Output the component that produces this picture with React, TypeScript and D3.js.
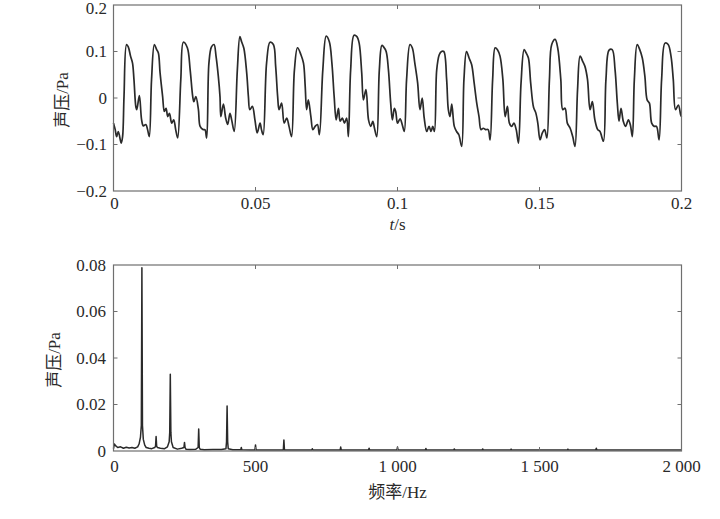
import React from "react";
import * as d3 from "d3";

// time waveform: [t (ms), sound pressure (Pa)]
const waveT: number[] = [0,0.6,1.1,1.7,2.7,3.2,3.7,4.6,5.2,6.0,6.7,7.2,7.9,8.2,9.1,9.9,10.5,11.4,12.0,12.6,13.4,14.4,15.2,15.8,16.4,17.3,17.9,18.5,19.1,19.7,20.5,21.2,21.9,22.6,23.7,24.6,26.0,27.0,27.9,28.3,29.0,29.9,30.5,31.6,32.2,32.8,33.6,34.5,35.4,36.1,36.9,37.5,37.8,38.7,39.5,40.2,41.0,41.6,42.5,43.6,44.5,45.1,45.9,46.9,47.5,48.0,48.9,49.8,50.6,51.6,52.1,52.7,53.9,55.1,56.3,57.1,57.8,58.3,59.2,60.1,61.0,61.8,62.7,63.7,64.8,66.0,66.9,67.5,68.0,68.6,69.5,70.2,71.0,71.8,72.5,73.7,74.9,76.0,76.9,77.7,78.4,79.2,79.8,80.6,81.3,82.1,82.7,83.5,84.7,85.7,86.5,87.4,88.0,88.9,89.8,90.6,91.3,91.9,92.7,93.6,94.5,95.1,96.0,96.8,97.6,98.2,98.9,99.4,100.0,100.9,101.7,102.4,103.2,104.4,105.2,106.1,107.1,107.9,108.7,109.4,110.3,111.1,111.8,112.4,113.0,113.8,114.7,115.5,116.3,117.3,117.9,118.5,119.1,120.0,120.8,121.6,122.6,123.4,124.3,125.2,126.1,127.0,127.9,128.7,129.4,130.2,131.0,131.9,132.6,133.5,134.4,135.2,136.1,137.1,137.9,138.7,139.4,140.2,141.0,141.8,142.6,143.5,144.6,145.3,146.1,146.9,147.9,148.7,149.4,150.2,151.0,151.8,152.6,153.5,154.3,155.5,156.4,157.5,158.2,159.0,159.8,160.8,161.7,162.5,163.4,164.3,165.2,166.0,166.9,167.8,168.6,169.5,170.5,171.3,172.5,173.4,174.5,175.6,176.6,177.4,178.0,178.7,179.5,180.3,181.3,182.0,182.7,183.4,184.4,185.3,186.2,187.1,187.9,188.7,189.5,190.4,191.2,192.1,193.0,194.2,195.3,196.3,197.1,197.9,198.9,199.7,200];
const waveP: number[] = [-0.054,-0.068,-0.083,-0.072,-0.097,-0.083,0.003,0.115,0.11,0.09,0.075,0.04,-0.02,-0.025,0.005,-0.047,-0.06,-0.057,-0.068,-0.083,0.04,0.115,0.104,0.097,0.054,0.003,-0.029,-0.022,-0.04,-0.033,-0.054,-0.047,-0.068,-0.086,0.04,0.12,0.108,0.06,0.003,-0.008,0.003,-0.025,-0.061,-0.068,-0.068,-0.086,0.075,0.11,0.115,0.09,0.047,0.003,-0.04,-0.013,-0.043,-0.057,-0.033,-0.047,-0.072,0.06,0.132,0.121,0.107,0.054,0.003,-0.025,-0.018,-0.047,-0.075,-0.054,-0.068,-0.079,0.075,0.12,0.115,0.068,0.003,-0.025,-0.011,-0.054,-0.043,-0.061,-0.083,0.06,0.108,0.093,0.075,0.025,-0.025,-0.004,-0.04,-0.068,-0.061,-0.057,-0.079,0.06,0.133,0.121,0.075,0.003,-0.047,-0.022,-0.05,-0.043,-0.054,-0.043,-0.083,0.06,0.135,0.132,0.118,0.054,-0.004,0.018,-0.047,-0.061,-0.05,-0.065,-0.083,0.06,0.113,0.11,0.1,0.061,-0.011,-0.047,-0.022,-0.03,-0.054,-0.045,-0.058,-0.072,0.04,0.115,0.108,0.075,0.032,-0.025,0.0,-0.043,-0.072,-0.061,-0.072,-0.061,-0.072,0.06,0.093,0.1,0.1,0.04,-0.025,-0.04,-0.013,-0.061,-0.072,-0.079,-0.104,0.04,0.1,0.086,0.072,0.032,-0.011,-0.04,-0.068,-0.065,-0.068,-0.068,-0.09,0.04,0.108,0.104,0.09,0.04,-0.04,-0.018,-0.054,-0.061,-0.054,-0.068,-0.097,0.032,0.104,0.097,0.086,0.032,-0.02,-0.032,-0.054,-0.09,-0.075,-0.068,-0.086,0.04,0.115,0.126,0.108,0.04,-0.025,-0.022,-0.054,-0.065,-0.083,-0.104,0.018,0.09,0.079,0.068,0.04,-0.025,-0.008,-0.047,-0.068,-0.072,-0.093,0.04,0.103,0.104,0.061,-0.011,-0.05,-0.022,-0.05,-0.061,-0.047,-0.058,-0.083,0.04,0.115,0.104,0.086,0.047,-0.004,-0.011,-0.054,-0.061,-0.061,-0.09,0.04,0.118,0.115,0.09,0.04,-0.025,-0.015,-0.036,-0.04];

// spectrum: [frequency (Hz), amplitude (Pa)]
const specF: number[] = [0,3,8,15,25,35,45,55,65,75,85,90,95,98,100,102,105,110,115,125,135,145,148,150,152,155,165,180,190,196,198,200,202,204,210,225,240,248,250,252,255,270,290,298,300,302,305,320,350,380,396,398,400,402,404,420,448,450,452,480,498,500,502,550,598,600,602,650,698,700,702,750,798,800,802,850,898,900,902,950,998,1000,1002,1098,1100,1102,1198,1200,1202,1298,1300,1302,1398,1400,1402,1598,1600,1602,1698,1700,1702,1800,1900,2000];
const specA: number[] = [0.001,0.003,0.0022,0.0015,0.0018,0.0012,0.0016,0.0013,0.0015,0.0012,0.0018,0.003,0.006,0.011,0.0788,0.011,0.005,0.0025,0.0015,0.0012,0.001,0.0015,0.002,0.0062,0.002,0.0015,0.0012,0.001,0.0018,0.004,0.008,0.033,0.008,0.004,0.0015,0.0008,0.0012,0.0015,0.0037,0.0015,0.0008,0.0006,0.0008,0.0015,0.0095,0.0015,0.0008,0.0005,0.0006,0.0006,0.001,0.004,0.0194,0.004,0.001,0.0005,0.0005,0.0015,0.0005,0.0004,0.0004,0.0026,0.0004,0.0004,0.0004,0.0047,0.0004,0.0004,0.0004,0.001,0.0004,0.0004,0.0004,0.0017,0.0004,0.0004,0.0004,0.0012,0.0004,0.0004,0.0004,0.0017,0.0004,0.0004,0.0011,0.0004,0.0004,0.0009,0.0004,0.0004,0.0009,0.0004,0.0004,0.0008,0.0004,0.0004,0.0008,0.0004,0.0004,0.0012,0.0004,0.0004,0.0004,0.0004];

const topXTicks = [0, 0.05, 0.1, 0.15, 0.2];
const topXLabels = ["0", "0.05", "0.1", "0.15", "0.2"];
const topYTicks = [-0.2, -0.1, 0, 0.1, 0.2];
const topYLabels = ["\u22120.2", "\u22120.1", "0", "0.1", "0.2"];
const botXTicks = [0, 500, 1000, 1500, 2000];
const botXLabels = ["0", "500", "1 000", "1 500", "2 000"];
const botYTicks = [0, 0.02, 0.04, 0.06, 0.08];
const botYLabels = ["0", "0.02", "0.04", "0.06", "0.08"];

const FONT = "Liberation Serif, Times New Roman, DejaVu Serif, Noto Sans CJK SC, serif";
const FS = 17;
const FRAME = "#6f6f6f";
const INK = "#2a2a2a";

type PanelProps = {
  x: d3.ScaleLinear<number, number>;
  y: d3.ScaleLinear<number, number>;
  xTicks: number[];
  xLabels: string[];
  yTicks: number[];
  yLabels: string[];
  xLabelY: number;
  yLabelX: number;
  topLabelDy: string;
};

function Frame({ x, y, xTicks, xLabels, yTicks, yLabels, xLabelY, yLabelX, topLabelDy }: PanelProps) {
  const [x0, x1] = x.range();
  const [y1, y0] = y.range();
  const tl = 4;
  return (
    <g>
      <rect x={x0} y={y0} width={x1 - x0} height={y1 - y0} fill="none" stroke={FRAME} strokeWidth={1.2} />
      {xTicks.map((t, i) =>
        i === 0 || i === xTicks.length - 1 ? null : (
          <g key={"xt" + i}>
            <line x1={x(t)} x2={x(t)} y1={y1} y2={y1 - tl} stroke={FRAME} strokeWidth={1} />
            <line x1={x(t)} x2={x(t)} y1={y0} y2={y0 + tl} stroke={FRAME} strokeWidth={1} />
          </g>
        )
      )}
      {yTicks.map((t, i) =>
        i === 0 || i === yTicks.length - 1 ? null : (
          <g key={"yt" + i}>
            <line x1={x0} x2={x0 + tl} y1={y(t)} y2={y(t)} stroke={FRAME} strokeWidth={1} />
            <line x1={x1} x2={x1 - tl} y1={y(t)} y2={y(t)} stroke={FRAME} strokeWidth={1} />
          </g>
        )
      )}
      {xTicks.map((t, i) => (
        <text key={"xl" + i} x={x(t) + (i === 0 ? 1 : 0)} y={xLabelY} textAnchor="middle" fontSize={FS} fontFamily={FONT} fill={INK}>
          {xLabels[i]}
        </text>
      ))}
      {yTicks.map((t, i) => (
        <text key={"yl" + i} x={yLabelX} y={y(t)} dy={i === yTicks.length - 1 ? topLabelDy : "0.33em"} textAnchor="end" fontSize={FS} fontFamily={FONT} fill={INK}>
          {yLabels[i]}
        </text>
      ))}
    </g>
  );
}

export default function App() {
  const xT = d3.scaleLinear().domain([0, 0.2]).range([113.5, 681.5]);
  const yT = d3.scaleLinear().domain([-0.2, 0.2]).range([191, 5]);
  const xF = d3.scaleLinear().domain([0, 2000]).range([113.5, 681.5]);
  const yF = d3.scaleLinear().domain([0, 0.08]).range([451, 265]);

  const wave = waveT.map((t, i) => [t / 1000, waveP[i]] as [number, number]);
  const spec = specF.map((f, i) => [f, specA[i]] as [number, number]);

  const waveLine = d3.line<[number, number]>().x((d) => xT(d[0])).y((d) => yT(d[1])).curve(d3.curveCatmullRom.alpha(0.5));
  const specLine = d3.line<[number, number]>().x((d) => xF(d[0])).y((d) => yF(d[1]));

  return (
    <svg width={720} height={519} style={{ position: "absolute", left: 0, top: 0, background: "#fff" }}>
      <rect x={0} y={0} width={720} height={519} fill="#fff" />
      {/* top panel */}
      <path d={waveLine(wave) || ""} fill="none" stroke={INK} strokeWidth={1.7} strokeLinejoin="round" />
      <Frame x={xT} y={yT} xTicks={topXTicks} xLabels={topXLabels} yTicks={topYTicks} yLabels={topYLabels} xLabelY={209} yLabelX={107} topLabelDy="0.52em" />
      <text x={397.5} y={230} textAnchor="middle" fontSize={FS} fontFamily={FONT} fill={INK}>
        <tspan fontStyle="italic">t</tspan>/s
      </text>
      <text transform="translate(68,100) rotate(-90)" textAnchor="middle" fontSize={FS} fontFamily={FONT} fill={INK}>
        声压/Pa
      </text>

      {/* bottom panel */}
      <path d={specLine(spec) || ""} fill="none" stroke={INK} strokeWidth={1.5} strokeLinejoin="round" />
      <Frame x={xF} y={yF} xTicks={botXTicks} xLabels={botXLabels} yTicks={botYTicks} yLabels={botYLabels} xLabelY={472} yLabelX={106} topLabelDy="0.33em" />
      <text x={397.5} y={498} textAnchor="middle" fontSize={FS} fontFamily={FONT} fill={INK}>
        频率/Hz
      </text>
      <text transform="translate(60,360) rotate(-90)" textAnchor="middle" fontSize={FS} fontFamily={FONT} fill={INK}>
        声压/Pa
      </text>
    </svg>
  );
}
